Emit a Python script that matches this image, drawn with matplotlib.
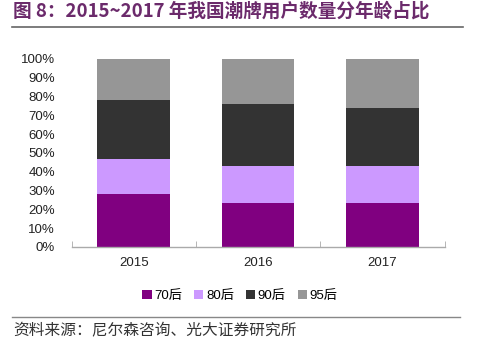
import matplotlib
matplotlib.use("Agg")
import matplotlib.pyplot as plt
from matplotlib.patches import Patch
from matplotlib.lines import Line2D
import numpy as np

plt.rcParams['font.family'] = ['Liberation Sans', 'Noto Sans CJK SC', 'DejaVu Sans']

years = ['2015', '2016', '2017']
series_names = ['70后', '80后', '90后', '95后']
s70 = [28, 23.5, 23.5]
s80 = [19, 19.5, 19.5]
s90 = [31, 33, 31]
s95 = [22, 24, 26]
colors = ['#800080', '#CC99FF', '#333333', '#969696']
yticks = [0, 10, 20, 30, 40, 50, 60, 70, 80, 90, 100]

fig = plt.figure(figsize=(5.0, 3.39), dpi=100)
ax = fig.add_axes([0.143, 0.2714, 0.746, 0.5546])

x = np.arange(len(years))
bottom = np.zeros(len(years))
for vals, c in zip([s70, s80, s90, s95], colors):
    ax.bar(x, vals, bottom=bottom, width=0.585, color=c, edgecolor='none')
    bottom += np.array(vals)

ax.set_xlim(-0.5, 2.5)
ax.set_ylim(0, 100)
ax.set_yticks(yticks)
ax.set_yticklabels([f'{v}%' for v in yticks], fontsize=9.5, color='#222222')
ax.tick_params(axis='y', length=0, pad=12)
ax.set_xticks(x)
ax.set_xticklabels(years, fontsize=9.5, color='#222222')
ax.tick_params(axis='x', length=0, pad=7)
ax.set_xticks([-0.5, 0.5, 1.5, 2.5], minor=True)
ax.tick_params(axis='x', which='minor', length=4, color='#AAAAAA', direction='in')
for s in ['top', 'right', 'left']:
    ax.spines[s].set_visible(False)
ax.spines['bottom'].set_color('#AAAAAA')
ax.spines['bottom'].set_linewidth(1.0)

# Title
fig.text(0.026, 0.967, '图 8：2015~2017 年我国潮牌用户数量分年龄占比',
         fontsize=13.4, fontweight='bold', color='#6B2A6B',
         family=['Noto Sans CJK SC', 'DejaVu Sans'], va='center', ha='left')
fig.add_artist(Line2D([0.024, 0.926], [0.92, 0.92], color='#666666', lw=1.2))

# Legend
handles = [Patch(facecolor=c, edgecolor='none') for c in colors]
fig.legend(handles, series_names, loc='center', bbox_to_anchor=(0.48, 0.127),
           ncol=4, frameon=False, handlelength=0.7, handleheight=0.7,
           handletextpad=0.2, columnspacing=0.9,
           prop={'family': ['Liberation Sans', 'Noto Sans CJK SC'], 'size': 9.5})

# Source
fig.add_artist(Line2D([0.024, 0.92], [0.066, 0.066], color='#888888', lw=1.0))
fig.text(0.026, 0.024, '资料来源：尼尔森咨询、光大证券研究所', fontsize=11.3,
         color='#333333', family=['Noto Sans CJK SC', 'DejaVu Sans'],
         va='center', ha='left')

fig.savefig('out.png', dpi=100)
